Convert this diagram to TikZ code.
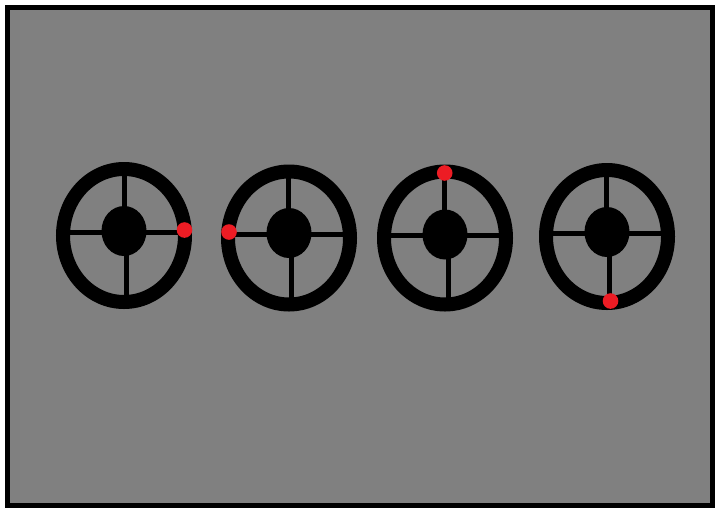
\documentclass[tikz,border=0pt]{standalone}
\definecolor{bggray}{RGB}{128,128,128}
\definecolor{dotred}{RGB}{237,28,36}
\tikzset{
  ringline/.style={draw=black,line width=14pt},
  spokeline/.style={draw=black,line width=5pt},
  hubfill/.style={fill=black},
  reddot/.style={fill=dotred}
}
% #1,#2 ring centre; #3 hub y; #4 top spoke x; #5 bottom spoke x; #6 horizontal spoke y; #7,#8 red dot
\newcommand\drawwheel[8]{%
  \draw[spokeline] (#4,#3) -- (#4,#2-66);
  \draw[spokeline] (#5,#3) -- (#5,#2+66);
  \draw[spokeline] (#1-61,#6) -- (#1+61,#6);
  \fill[hubfill] (#1,#3) ellipse [x radius=22.5, y radius=25];
  \draw[ringline] (#1,#2) ellipse [x radius=61, y radius=66.5];
  \fill[reddot] (#7,#8) circle [radius=7.8];
}
\begin{document}
\begin{tikzpicture}[x=1pt,y=-1pt]
\useasboundingbox (0,0) rectangle (720,520);
\fill[white] (0,0) rectangle (720,520);
\draw[fill=bggray,line width=5pt] (7.5,7.5) rectangle (712.5,505.5);
\drawwheel{124}{235.5}{231}{124}{126}{232}{184.5}{230}
\drawwheel{289}{238}{233}{288.5}{291.5}{234}{229}{232}
\drawwheel{445}{238}{234.5}{444.5}{448}{235}{444.7}{173}
\drawwheel{607}{236.5}{232}{606.5}{609.5}{233.3}{610.5}{301}
\end{tikzpicture}
\end{document}
